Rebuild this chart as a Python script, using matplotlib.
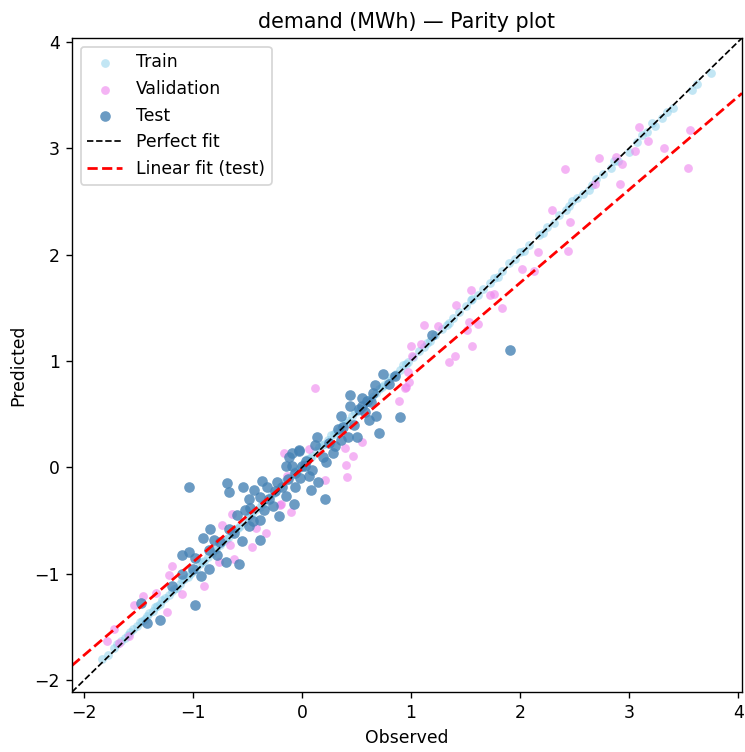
import numpy as np
import matplotlib
matplotlib.use("Agg")
import matplotlib.pyplot as plt

# ---------------- data ----------------
train_obs = [-1.83, -1.78, -1.72, -1.66, -1.62, -1.58, -1.55, -1.51, -1.47, -1.44, -1.40, -1.37, -1.33,
             -1.30, -1.26, -1.22, -1.19, -1.15, -1.12, -1.08, -1.05, -1.01, -0.97, -0.94, -0.90, -0.86,
             -0.83, -0.79, -0.75, -0.72, -0.68, -0.64, -0.61, -0.57, -0.53, -0.50, -0.46, -0.43, -0.39,
             -0.35, -0.31, -0.28, -0.24, -0.20, -0.17, -0.13, -0.09, -0.06, -0.02, 0.02, 0.05, 0.09,
             0.13, 0.16, 0.20, 0.24, 0.27, 0.31, 0.35, 0.38, 0.42, 0.46, 0.49, 0.53, 0.57, 0.60, 0.64,
             0.68, 0.71, 0.75, 0.79, 0.82, 0.86, 0.90, 0.93, 0.97, 1.02, 1.07, 1.12, 1.17, 1.22, 1.28,
             1.33, 1.38, 1.44, 1.50, 1.56, 1.61, 1.66, 1.72, 1.76, 1.83, 1.90, 1.95, 2.04, 2.08, 2.17,
             2.25, 2.31, 2.36, 2.42, 2.48, 2.52, 2.58, 2.63, 2.70, 2.76, 2.83, 2.90, 3.00, 3.07, 3.12,
             3.21, 3.24, 3.30, 3.35, 3.40, 3.58, 3.62, 3.75,
             -1.70, -1.60, -1.49, -1.42, -1.35, -1.28, -1.17, -1.10, -1.03, -0.92, -0.81, -0.70, -0.59,
             -0.48, -0.37, -0.26, -0.15, -0.04, 0.07, 0.18, 0.29, 0.40, 0.51, 0.62, 0.73, 0.84, 0.95,
             1.15, 1.35, 1.55, 1.80, 2.00, 2.21, 2.45, 2.66, 2.86, 3.16]
train_pred = [-1.80, -1.76, -1.70, -1.63, -1.60, -1.55, -1.52, -1.49, -1.44, -1.42, -1.37, -1.35, -1.30,
              -1.28, -1.23, -1.20, -1.16, -1.13, -1.10, -1.05, -1.03, -0.98, -0.95, -0.91, -0.88, -0.84,
              -0.80, -0.77, -0.73, -0.69, -0.66, -0.62, -0.58, -0.55, -0.51, -0.47, -0.44, -0.40, -0.37,
              -0.33, -0.29, -0.25, -0.22, -0.18, -0.14, -0.11, -0.07, -0.03, 0.00, 0.04, 0.08, 0.11,
              0.15, 0.19, 0.22, 0.26, 0.30, 0.33, 0.37, 0.41, 0.44, 0.48, 0.52, 0.55, 0.59, 0.63, 0.66,
              0.70, 0.74, 0.77, 0.81, 0.85, 0.88, 0.92, 0.96, 0.99, 1.04, 1.09, 1.13, 1.19, 1.24, 1.30,
              1.34, 1.40, 1.46, 1.52, 1.58, 1.62, 1.68, 1.73, 1.78, 1.85, 1.92, 1.96, 2.03, 2.09, 2.18,
              2.26, 2.30, 2.37, 2.42, 2.50, 2.53, 2.57, 2.61, 2.71, 2.76, 2.81, 2.88, 2.96, 3.06, 3.12,
              3.24, 3.21, 3.28, 3.34, 3.38, 3.55, 3.60, 3.71,
              -1.66, -1.57, -1.45, -1.40, -1.31, -1.25, -1.14, -1.06, -1.00, -0.89, -0.78, -0.67, -0.57,
              -0.45, -0.34, -0.24, -0.12, -0.02, 0.09, 0.21, 0.31, 0.42, 0.53, 0.64, 0.76, 0.86, 0.97,
              1.17, 1.36, 1.57, 1.79, 2.02, 2.20, 2.46, 2.65, 2.88, 3.15]

val_obs = [3.09, 3.56, 3.17, 3.32, 2.72, 2.88, 2.93, 3.05, 2.41, 3.54, 2.69, 2.92, 2.29, 2.46, 2.16, 2.44,
           2.02, 2.13, 1.55, 1.72, 1.41, 1.83, 1.12, 1.25, 1.53, 1.61, 1.51, 1.00, 1.09, 1.56, 1.40, 1.35,
           1.01, 0.94, 0.98, 0.12, 0.89, 0.95, 0.55, 0.47, 0.40, 0.41, 0.21, -0.17, 0.06, 0.39, -0.14,
           -0.19, -0.10, -0.20, -0.33, -0.46, -0.64, -0.73, -0.62, -0.76, -1.19, -1.22, -0.90, -0.42,
           -0.66, -1.46, -1.54, -1.34, -1.24, -1.10, -1.79, -1.68, -1.59, -1.72, 1.76, 0.97]
val_pred = [3.20, 3.17, 3.07, 3.00, 2.91, 2.92, 2.85, 2.97, 2.80, 2.81, 2.66, 2.66, 2.42, 2.31, 2.02, 2.03,
            1.86, 1.85, 1.67, 1.62, 1.53, 1.50, 1.34, 1.33, 1.37, 1.35, 1.29, 1.14, 1.16, 1.14, 1.05, 0.99,
            1.05, 0.75, 0.80, 0.75, 0.62, 0.76, 0.24, 0.11, 0.02, -0.09, -0.12, 0.14, 0.17, 0.18, -0.08,
            -0.34, -0.42, -0.35, -0.62, -0.75, -0.44, -0.54, -0.86, -0.89, -0.93, -1.01, -1.11, -0.57,
            -0.73, -1.21, -1.29, -1.18, -1.36, -1.19, -1.63, -1.65, -1.58, -1.52, 1.63, 0.90]

test_obs = [1.91, 1.19, 0.74, 0.67, 0.44, 0.55, 0.44, 0.63, 0.36, 0.61, 0.68, 0.90, 0.71, 0.50, 0.36, 0.42,
            0.14, 0.25, 0.12, -0.03, -0.12, 0.28, 0.19, -0.09, 0.00, 0.09, 0.06, 0.15, -0.06, 0.08, -0.15,
            -0.07, 0.21, -0.18, 0.55, 0.58, 0.48, 0.33, 0.52, 0.65, 0.80, 0.85, 0.60, 0.30, 0.22, 0.04,
            -0.02, 0.38,
            -1.04, -0.69, -0.67, -0.54, -0.37, -0.32, -0.44, -0.23, -0.13, -0.49, -0.39, -0.27, -0.21,
            -0.48, -0.39, -0.49, -0.84, -0.91, -0.81, -0.67, -0.55, -0.39, -1.04, -1.10, -0.98, -0.70,
            -0.58, -0.93, -1.19, -0.09, -0.03, -0.15, -0.06, 0.03, -0.30, -0.35, -0.60, -0.75, -0.62,
            -0.45, -0.25, -0.52, -0.85, -0.78,
            -1.48, -1.30, -1.42, -0.98, -0.85, -1.10, -1.00]
test_pred = [1.10, 1.24, 0.88, 0.77, 0.68, 0.65, 0.58, 0.61, 0.48, 0.45, 0.48, 0.47, 0.32, 0.29, 0.26, 0.29,
             0.29, 0.23, 0.21, 0.16, 0.10, 0.14, 0.10, 0.01, 0.01, -0.02, -0.08, -0.14, -0.18, -0.21, -0.27,
             -0.34, -0.30, -0.18, 0.58, 0.52, 0.40, 0.36, 0.55, 0.70, 0.78, 0.86, 0.62, 0.20, 0.05, 0.06,
             -0.10, 0.38,
             -0.18, -0.15, -0.23, -0.18, -0.13, -0.18, -0.21, -0.14, -0.11, -0.30, -0.28, -0.36, -0.46,
             -0.38, -0.49, -0.55, -0.58, -0.66, -0.68, -0.58, -0.69, -0.68, -0.79, -0.82, -0.85, -0.89,
             -0.91, -1.02, -1.11, 0.14, 0.15, 0.01, -0.05, 0.01, -0.30, -0.40, -0.45, -0.70, -0.62,
             -0.50, -0.22, -0.40, -0.78, -0.82,
             -1.27, -1.43, -1.46, -1.29, -0.95, -1.00, -0.95]

fit_slope = 0.875
fit_intercept = -0.015
axis_lims = [-2.11, 4.035]

title = "demand (MWh) \u2014 Parity plot"

# ---------------- plot ----------------
DPI = 124
fig = plt.figure(figsize=(745 / DPI, 752 / DPI), dpi=DPI)
ax = fig.add_axes([0.0966, 0.0798, 0.8994, 0.8697])

ax.scatter(train_obs, train_pred, s=26, color="skyblue", alpha=0.5, linewidths=0, label="Train")
ax.scatter(val_obs, val_pred, s=26, color="violet", alpha=0.6, linewidths=0, label="Validation")
ax.scatter(test_obs, test_pred, s=38, color="steelblue", alpha=0.8, linewidths=0, label="Test")

lims = np.array(axis_lims)
ax.plot(lims, lims, "k--", lw=1.0, label="Perfect fit")
ax.plot(lims, fit_slope * lims + fit_intercept, "r--", lw=1.6, label="Linear fit (test)")

ax.set_xlim(lims)
ax.set_ylim(lims)
ax.set_xlabel("Observed")
ax.set_ylabel("Predicted")
ax.set_title(title)
ax.legend(loc="upper left")

fig.savefig("out.png", dpi=DPI)
